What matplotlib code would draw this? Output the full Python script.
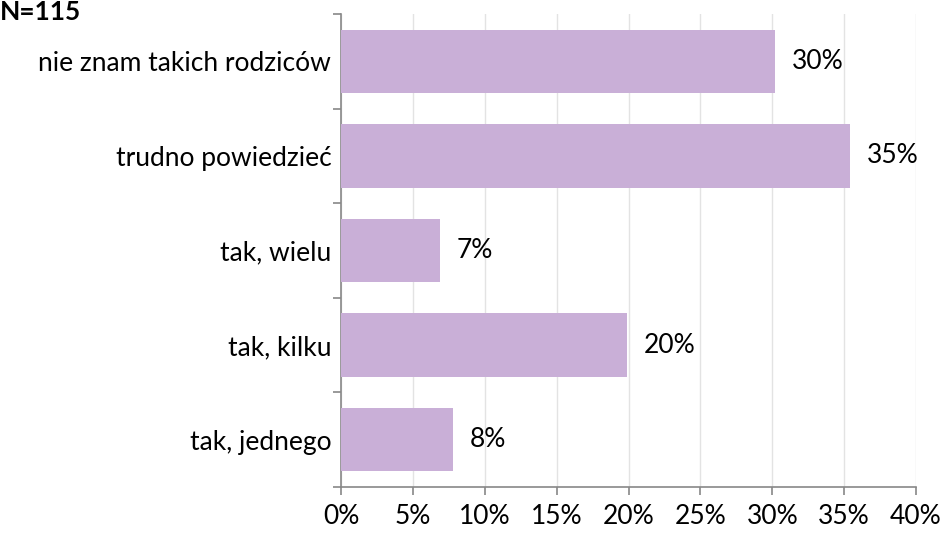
import matplotlib
matplotlib.use("Agg")
import matplotlib.pyplot as plt
from matplotlib.ticker import FixedLocator, NullFormatter

categories = ["nie znam takich rodziców", "trudno powiedzieć", "tak, wielu", "tak, kilku", "tak, jednego"]
values = [30.2, 35.4, 6.9, 19.9, 7.8]
labels = ["30%", "35%", "7%", "20%", "8%"]
xticks = [0, 5, 10, 15, 20, 25, 30, 35, 40]

plt.rcParams['font.family'] = ['Lato', 'DejaVu Sans']
fs = 19

fig = plt.figure(figsize=(9.46, 5.37), dpi=100)
ax = fig.add_axes([0.3605, 0.0931, 0.6078, 0.8808])

ypos = list(range(len(categories)))[::-1]
ax.barh(ypos, values, height=0.67, color="#C9AFD7", zorder=3)
for y, v, lab in zip(ypos, values, labels):
    ax.annotate(lab, (v, y), xytext=(12, 0), textcoords="offset points",
                va="center", ha="left", fontsize=fs, color="black")

ax.set_xlim(0, 40)
ax.set_ylim(-0.5, len(categories) - 0.5)
ax.set_xticks(xticks)
ax.set_xticklabels([f"{t}%" for t in xticks], fontsize=fs)
ax.set_yticks(ypos)
ax.set_yticklabels(categories, fontsize=fs)
ax.tick_params(axis="y", which="major", length=0, pad=7)
ax.yaxis.set_minor_locator(FixedLocator([i - 0.5 for i in range(len(categories) + 1)]))
ax.yaxis.set_minor_formatter(NullFormatter())
ax.tick_params(axis="y", which="minor", length=6, color="#888888", width=1.2)
ax.tick_params(axis="x", length=6, color="#888888", width=1.2, pad=6)

ax.grid(axis="x", color="#E3E3E3", linewidth=1, zorder=0)
for s in ["top", "right"]:
    ax.spines[s].set_visible(False)
for s in ["left", "bottom"]:
    ax.spines[s].set_color("#888888")
    ax.spines[s].set_linewidth(1.2)

fig.text(0.0, 1.0, "N=115", fontsize=fs, fontweight="bold", ha="left", va="top")

fig.savefig("out.png", dpi=100)
